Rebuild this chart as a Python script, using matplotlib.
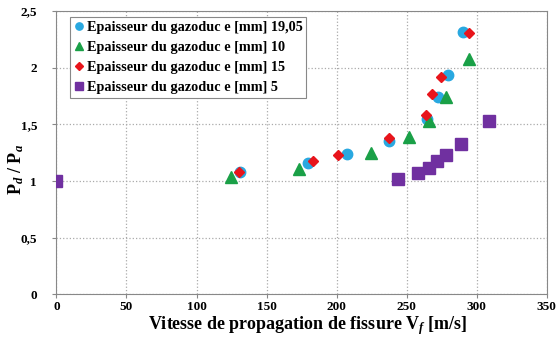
import numpy as np, matplotlib; matplotlib.use('Agg')
import matplotlib.pyplot as plt
from matplotlib.ticker import FuncFormatter

plt.rcParams['font.family'] = ['Liberation Serif', 'DejaVu Serif']
plt.rcParams['font.weight'] = 'bold'
plt.rcParams['mathtext.fontset'] = 'custom'
plt.rcParams['mathtext.rm'] = 'Liberation Serif:bold'
plt.rcParams['mathtext.it'] = 'Liberation Serif:italic:bold'

# e = 19,05 mm
v19 = [130.9, 179.7, 207.1, 237.6, 264.3, 272.6, 279.3, 290.4]
p19 = [1.08, 1.16, 1.24, 1.35, 1.55, 1.74, 1.94, 2.32]
# e = 10 mm
v10 = [124.3, 173.1, 224.7, 251.6, 266.0, 278.1, 294.5]
p10 = [1.04, 1.11, 1.25, 1.39, 1.53, 1.74, 2.08]
# e = 15 mm
v15 = [130.0, 182.9, 200.7, 237.4, 263.6, 268.3, 274.5, 294.8]
p15 = [1.08, 1.18, 1.23, 1.38, 1.58, 1.77, 1.92, 2.31]
# e = 5 mm
v5 = [0.0, 244.0, 257.9, 266.0, 271.6, 278.3, 289.0, 308.8]
p5 = [1.0, 1.02, 1.07, 1.12, 1.18, 1.23, 1.33, 1.53]

fig = plt.figure(figsize=(5.59, 3.38), dpi=100)
ax = fig.add_axes([0.101, 0.129, 0.877, 0.838])

ax.plot(v19, p19, 'o', color='#29a8e0', ms=7.5, label='Epaisseur du gazoduc e [mm] 19,05', zorder=3)
ax.plot(v10, p10, '^', color='#1aa047', ms=8, label='Epaisseur du gazoduc e [mm] 10', zorder=3)
ax.plot(v15, p15, 'D', color='#e8141b', ms=5.5, label='Epaisseur du gazoduc e [mm] 15', zorder=4)
ax.plot(v5, p5, 's', color='#7030a0', ms=8, label='Epaisseur du gazoduc e [mm] 5', zorder=3)

ax.set_xlim(0, 350)
ax.set_ylim(0, 2.5)
ax.set_xticks(np.arange(0, 351, 50))
ax.set_yticks(np.arange(0, 2.51, 0.5))
ax.yaxis.set_major_formatter(FuncFormatter(lambda v, p: ('%g' % v).replace('.', ',')))
ax.tick_params(labelsize=9.5, length=3, color='#888888')
ax.tick_params(axis='x', pad=1.5)
ax.tick_params(axis='y', pad=11)
for lab in ax.get_xticklabels() + ax.get_yticklabels():
    lab.set_fontweight('bold')
ax.grid(True, ls=':', color='#aaaaaa', lw=0.9)
for s in ax.spines.values():
    s.set_color('#888888')

ax.set_xlabel('Vitesse de propagation de fissure V$_f$ [m/s]', fontsize=13, fontweight='bold')
ax.set_ylabel('P$_d$ / P$_a$', fontsize=13, fontweight='bold')
ax.xaxis.set_label_coords(0.512, -0.068)
ax.yaxis.set_label_coords(-0.063, 0.44)

leg = ax.legend(loc='upper left', bbox_to_anchor=(0.027, 0.979),
                prop={'weight': 'bold', 'size': 10.3}, markerscale=0.7,
                handletextpad=0.15, handlelength=0.8, borderpad=0.25, labelspacing=0.5,
                fancybox=False, framealpha=1, edgecolor='#888888', borderaxespad=0)
leg.get_frame().set_linewidth(0.8)

fig.savefig('out.png', dpi=100)
